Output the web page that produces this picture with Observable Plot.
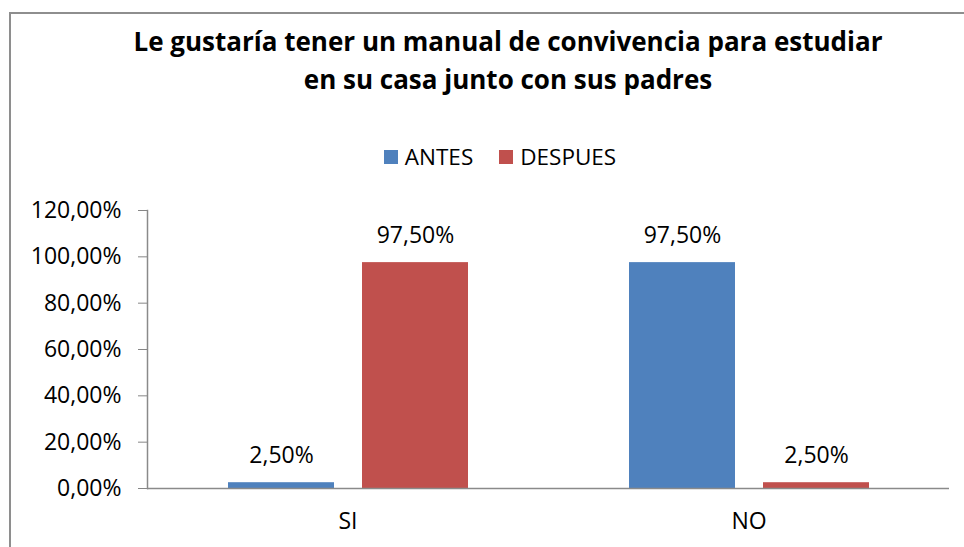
<!DOCTYPE html>
<html>
<head>
<meta charset="utf-8">
<script src="https://cdn.jsdelivr.net/npm/d3@7"></script>
<script src="https://cdn.jsdelivr.net/npm/@observablehq/plot@0.6"></script>
<style>
  html, body { margin: 0; padding: 0; background: #fff; overflow: hidden; }
  #wrap { position: relative; width: 964px; height: 547px; overflow: hidden; font-family: "Open Sans", Lato, sans-serif; color: #000; }
  #border { position: absolute; left: 9px; top: 12px; width: 980px; height: 600px; border-left: 2px solid #8e8e8e; border-top: 2px solid #8e8e8e; }
  #title { position: absolute; left: 52px; width: 912px; top: 22px; text-align: center; font-weight: bold; font-size: 26px; line-height: 38px; }
  #legend { position: absolute; left: 36px; width: 928px; top: 144px; display: flex; justify-content: center; align-items: center; font-size: 22.5px; line-height: 26px; }
  .item { display: flex; align-items: center; }
  .sw { width: 14px; height: 14px; margin-right: 7px; }
  #chart { position: absolute; left: 0; top: 190px; }
</style>
</head>
<body>
<div id="wrap">
  <div id="border"></div>
  <div id="title">Le gustaría tener un manual de convivencia para estudiar<br>en su casa junto con sus padres</div>
  <div id="legend"></div>
  <div id="chart"></div>
</div>
<script>
const categorias = ["SI", "NO"];
const series = ["ANTES", "DESPUES"];
const antes = [0.025, 0.975];
const despues = [0.975, 0.025];
const yTicks = [0, 0.2, 0.4, 0.6, 0.8, 1.0, 1.2];
const colores = ["#4F81BD", "#C0504D"];

const valores = {ANTES: antes, DESPUES: despues};
const data = categorias.flatMap((c, i) => series.map(s => ({cat: c, serie: s, v: valores[s][i]})));
const fmt = v => (v * 100).toFixed(2).replace(".", ",") + "%";

// legend
const legend = document.getElementById("legend");
series.forEach((s, i) => {
  const it = document.createElement("div");
  it.className = "item";
  if (i > 0) it.style.marginLeft = "26px";
  const sw = document.createElement("div");
  sw.className = "sw";
  sw.style.background = colores[i];
  const t = document.createElement("span");
  t.textContent = s;
  it.appendChild(sw); it.appendChild(t);
  legend.appendChild(it);
});

const chart = Plot.plot({
  width: 964,
  height: 357,
  marginTop: 20,
  marginBottom: 59,
  marginLeft: 146,
  marginRight: 15,
  style: {fontFamily: "'Open Sans', Lato, sans-serif", fontSize: "23px", color: "#000", background: "transparent", overflow: "visible"},
  fx: {domain: categorias, padding: 0, label: null, axis: null},
  x: {domain: series, paddingInner: 0.21, paddingOuter: 0.6, axis: null},
  y: {domain: [0, 1.2], label: null, axis: null},
  color: {domain: series, range: colores},
  marks: [
    Plot.axisY({ticks: yTicks, tickFormat: fmt, tickSize: 9, tickPadding: 17, stroke: "#868686", fill: "#000", label: null, fontSize: 23}),
    Plot.axisFx({anchor: "bottom", tickSize: 0, tickPadding: 24, label: null, fontSize: 23, fill: "#000"}),
    Plot.barY(data, {fx: "cat", x: "serie", y: "v", fill: "serie"}),
    Plot.ruleY([0], {stroke: "#8a8a8a", strokeWidth: 1.5}),
    Plot.frame({anchor: "left", facetAnchor: "left", stroke: "#8a8a8a", strokeWidth: 1.5}),
    Plot.text(data, {fx: "cat", x: "serie", y: "v", text: d => fmt(d.v), lineAnchor: "bottom", dy: -20, fontSize: 23, fill: "#000"})
  ]
});
document.getElementById("chart").appendChild(chart);
</script>
</body>
</html>
